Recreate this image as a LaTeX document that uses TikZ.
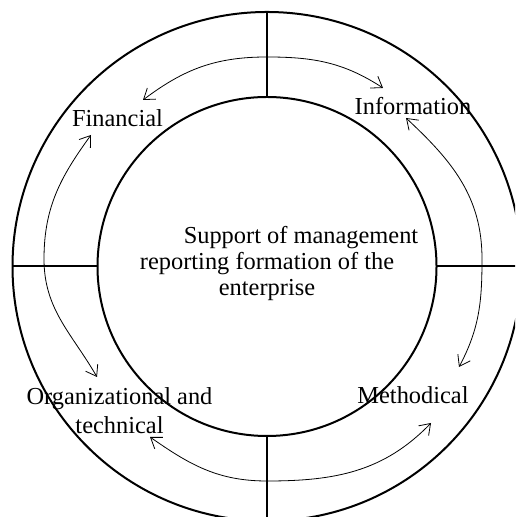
\documentclass[tikz,border=0pt]{standalone}
\usepackage{fontspec}
\setmainfont{Liberation Serif}
\usetikzlibrary{arrows.meta}

\begin{document}
\begin{tikzpicture}[x=0.5pt,y=0.5pt]
  \tikzstyle{RingStyle}=[line width=1pt]
  \tikzstyle{FlowStyle}=[line width=0.4pt,{Straight Barb[length=5pt,width=7pt]}-{Straight Barb[length=5pt,width=7pt]}]
  \tikzstyle{LabelStyle}=[font=\fontsize{12.2}{13}\selectfont,inner sep=0pt]
  \useasboundingbox (0,0) rectangle (515,517);
  \clip (0,0) rectangle (515,517);
  \coordinate (c) at (267,250.5);
  \draw[RingStyle] (c) circle (254.5);
  \draw[RingStyle] (c) circle (169.5);
  \foreach \a in {0,90,180,270}
    \draw[RingStyle] (c) ++(\a:169.5) -- ++(\a:85);
  \node[LabelStyle,anchor=base] (fin) at (117.5,390) {Financial};
  \node[LabelStyle,anchor=base] (inf) at (413,402) {Information};
  \node[LabelStyle,anchor=base] (met) at (413,113) {Methodical};
  \node[LabelStyle,align=center,font=\fontsize{12.2}{14.5}\selectfont] (org) at (119.5,106) {Organizational and\\technical};
  \node[LabelStyle,align=center] (sup) at (267,253.5) {\hspace*{34pt}Support of management\\reporting formation of the\\enterprise};
  \coordinate (t1) at (143,417);
  \coordinate (tm) at (267,460);
  \coordinate (t2) at (383,429);
  \coordinate (l1) at (91,382);
  \coordinate (lm) at (44,258);
  \coordinate (l2) at (97,140);
  \coordinate (r1) at (406,399);
  \coordinate (rm) at (482,258);
  \coordinate (r2) at (459,150);
  \coordinate (b1) at (150,80);
  \coordinate (bm) at (267,36);
  \coordinate (b2) at (431,94);
  \draw[FlowStyle] (t1) to[out=37,in=180] (tm) to[out=0,in=147] (t2);
  \draw[FlowStyle] (l1) to[out=234,in=90] (lm) to[out=270,in=120] (l2);
  \draw[FlowStyle] (r1) to[out=-43,in=90] (rm) to[out=-90,in=62] (r2);
  \draw[FlowStyle] (b1) to[out=-35,in=180] (bm) to[out=0,in=226] (b2);
\end{tikzpicture}
\end{document}
